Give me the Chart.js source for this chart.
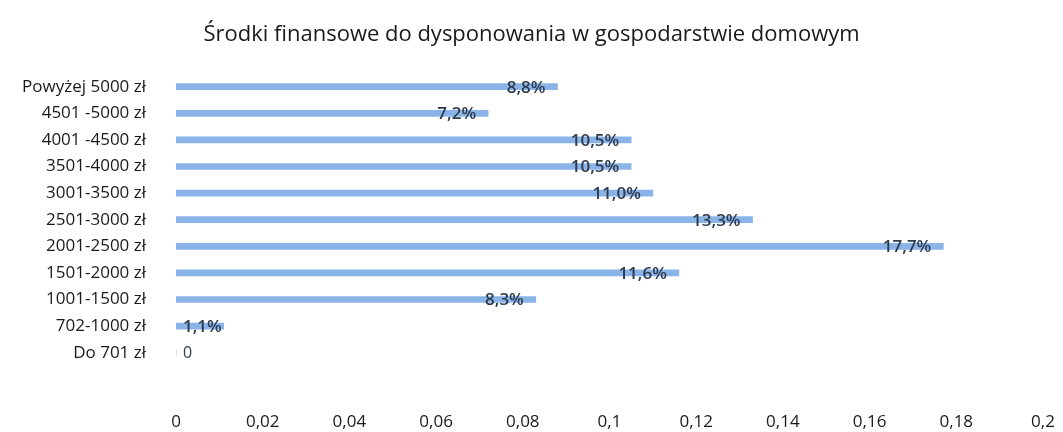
<!DOCTYPE html>
<html>
<head>
<meta charset="utf-8">
<script src="https://cdn.jsdelivr.net/npm/chart.js@4/dist/chart.umd.min.js"></script>
<style>
  html, body { margin: 0; padding: 0; background: #fff; overflow: hidden; }
</style>
</head>
<body>
<canvas id="chart" width="1063" height="432"></canvas>
<script>
const categories = [
  'Powyżej 5000 zł',
  '4501 -5000 zł',
  '4001 -4500 zł',
  '3501-4000 zł',
  '3001-3500 zł',
  '2501-3000 zł',
  '2001-2500 zł',
  '1501-2000 zł',
  '1001-1500 zł',
  '702-1000 zł',
  'Do 701 zł',
];

const shares = [0.088, 0.072, 0.105, 0.105, 0.110, 0.133, 0.177, 0.116, 0.083, 0.011, 0];

const shareLabels = ['8,8%', '7,2%', '10,5%', '10,5%', '11,0%', '13,3%', '17,7%', '11,6%', '8,3%', '1,1%', '0'];

const xTicks = [0, 0.02, 0.04, 0.06, 0.08, 0.1, 0.12, 0.14, 0.16, 0.18, 0.2];

const fontFamily = "'Open Sans', 'Noto Sans', sans-serif";

// labels sit at the end of each bar, like the original spreadsheet chart
const barLabels = {
  id: 'barLabels',
  afterDatasetsDraw(chart) {
    const { ctx } = chart;
    const meta = chart.getDatasetMeta(0);
    ctx.save();
    ctx.fillStyle = '#2d3b4e';
    ctx.textBaseline = 'middle';
    ctx.textAlign = 'right';
    meta.data.forEach((bar, i) => {
      const text = shareLabels[i];
      ctx.font = shares[i] === 0 ? `400 16px ${fontFamily}` : `600 17px ${fontFamily}`;
      const w = ctx.measureText(text).width;
      const left = chart.chartArea.left;
      let x = bar.x - 12;
      if (x - w < left + 7) x = left + 7 + w;
      ctx.fillText(text, x, bar.y + 1);
    });
    ctx.restore();
  },
};

new Chart(document.getElementById('chart'), {
  type: 'bar',
  data: {
    labels: categories,
    datasets: [{
      data: shares,
      backgroundColor: 'rgba(118, 166, 228, 0.85)',
      barThickness: 6,
    }],
  },
  plugins: [barLabels],
  options: {
    indexAxis: 'y',
    responsive: false,
    animation: false,
    layout: { padding: { top: 18, right: 0, bottom: 0, left: 0 } },
    plugins: {
      legend: { display: false },
      tooltip: { enabled: false },
      title: {
        display: true,
        text: 'Środki finansowe do dysponowania w gospodarstwie domowym',
        color: '#1a1a1a',
        font: { family: fontFamily, size: 22, weight: 'normal' },
        padding: { top: 4, bottom: 25 },
      },
    },
    scales: {
      x: {
        min: 0,
        max: 0.2,
        grid: { display: false },
        border: { display: false },
        afterBuildTicks(scale) {
          scale.ticks = xTicks.map((v) => ({ value: v }));
        },
        afterFit(scale) {
          scale.height = 66;
          scale.paddingRight = 20;
        },
        ticks: {
          padding: 38,
          maxRotation: 0,
          color: '#1a1a1a',
          font: { family: fontFamily, size: 17 },
          callback: (v) => String(v).replace('.', ','),
        },
      },
      y: {
        grid: { display: false },
        border: { display: false },
        afterFit(scale) { scale.width = 176; },
        ticks: {
          padding: 22,
          color: '#1a1a1a',
          font: { family: fontFamily, size: 17 },
        },
      },
    },
  },
});
</script>
</body>
</html>
